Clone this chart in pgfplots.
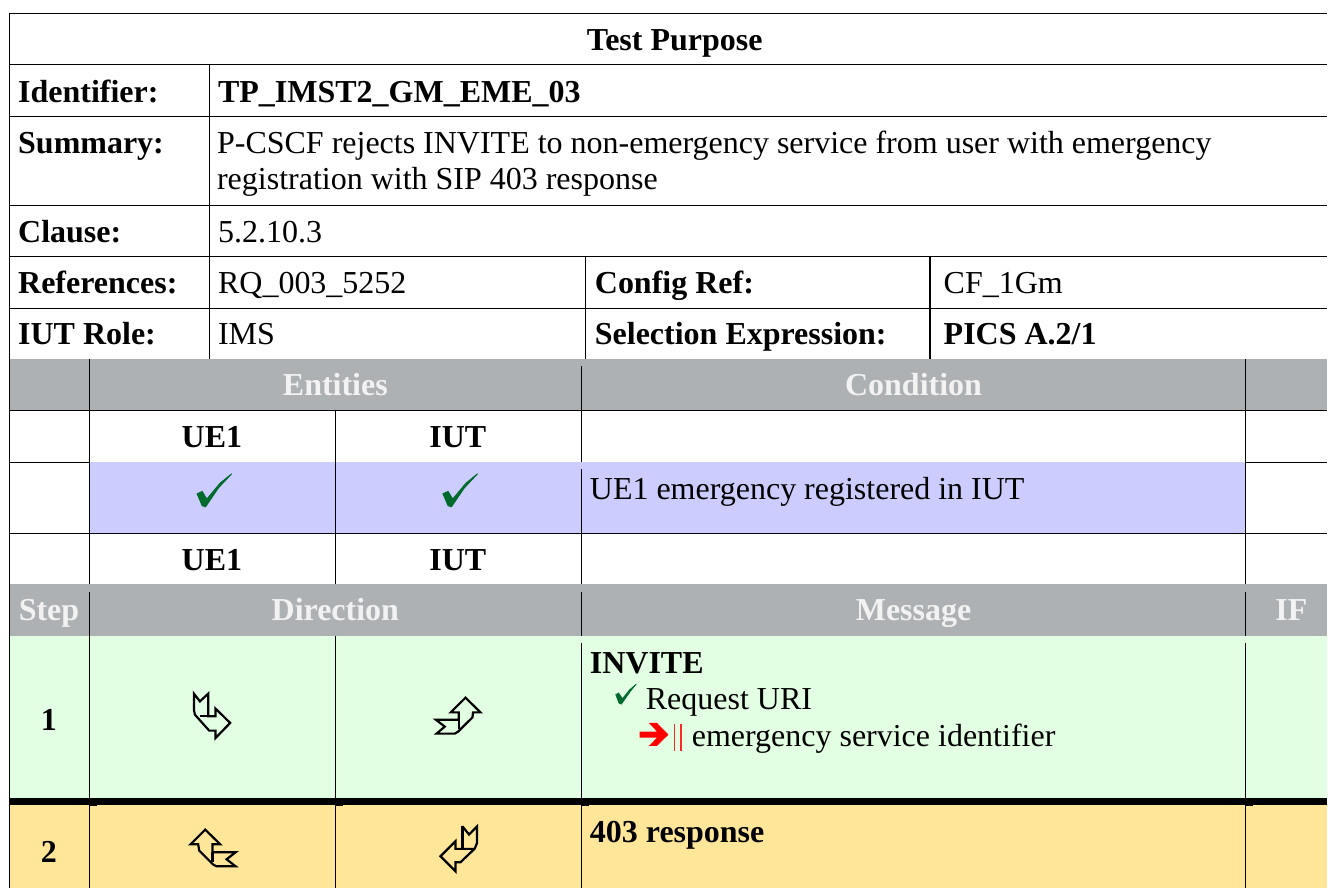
\documentclass[border=0pt]{standalone}
\usepackage{pgfplots}
\usepackage{fontspec}
\pgfplotsset{compat=1.18}
\setmainfont{Liberation Serif}
\definecolor{hdr}{HTML}{AEB1B3}
\definecolor{blu}{HTML}{CCCCFF}
\definecolor{grn}{HTML}{E3FFE3}
\definecolor{yel}{HTML}{FFE699}
\definecolor{chk}{HTML}{006B2D}
\definecolor{hdt}{HTML}{F2F2F2}
\newcommand{\fb}[5]{\addplot[draw=none,fill=#5] coordinates {(#1,#2) (#3,#2) (#3,#4) (#1,#4)} -- cycle;}
\newcommand{\vl}[3]{\addplot[black,line width=1.3pt] coordinates {(#1,#2) (#1,#3)};}
\newcommand{\hl}[3]{\addplot[black,line width=1.3pt] coordinates {(#2,#1) (#3,#1)};}
\newcommand{\tw}[3]{\node[anchor=base west,inner sep=0pt] at (axis cs:#1,#2) {#3};}
\newcommand{\tc}[3]{\node[anchor=base,inner sep=0pt] at (axis cs:#1,#2) {#3};}
\begin{document}
\begin{tikzpicture}
\begin{axis}[
  scale only axis, width=1328pt, height=888pt,
  xmin=0, xmax=1328, ymin=0, ymax=888, y dir=reverse,
  axis lines=none, clip=false, ticks=none,
]
\fontsize{32}{38}\selectfont
% fills
\fb{0}{0}{1328}{888}{white}
\fb{9}{359}{1328}{410}{hdr}
\fb{9}{584}{1328}{636}{hdr}
\fb{89}{462}{1246}{533}{blu}
\fb{9}{636}{1328}{798}{grn}
\fb{9}{805}{1328}{888}{yel}
\fb{9}{798}{1328}{805}{black}
\fb{89}{805}{97}{806}{black}
\fb{335}{805}{343}{806}{black}
\fb{581}{805}{589}{806}{black}
\fb{1246}{805}{1254}{806}{black}
% horizontal rules
\hl{13.5}{9}{1328}
\hl{64.5}{9}{1328}
\hl{116.5}{9}{1328}
\hl{205.5}{9}{1328}
\hl{256.5}{9}{1328}
\hl{308.5}{9}{1328}
\hl{410.5}{9}{1328}
\hl{462.5}{9}{89}
\hl{462.5}{1246}{1328}
\hl{533.5}{9}{1328}
% vertical rules
\vl{9.5}{13}{888}
\vl{209.5}{64}{359}
\vl{585.5}{256}{359}
\vl{930.5}{256}{359}
\vl{89.5}{359}{584}
\vl{89.5}{592}{888}
\vl{335.5}{410}{584}
\vl{335.5}{636}{888}
\vl{581.5}{366}{462}
\vl{581.5}{469}{584}
\vl{581.5}{592}{636}
\vl{581.5}{643}{888}
\vl{1246.2}{359}{584}
\vl{1246.2}{592}{636}
\vl{1246.2}{643}{888}
% checks
\addplot[draw=chk,line width=0.9pt,fill=chk] coordinates {(197.2,494) (202.3,491.7) (206.9,499.3) (220.3,483.3) (231.8,474) (218.4,488.3) (205.7,507) (202.3,506)} -- cycle;
\addplot[draw=chk,line width=0.9pt,fill=chk] coordinates {(443.2,494) (448.3,491.7) (452.9,499.3) (466.3,483.3) (477.8,474) (464.4,488.3) (451.7,507) (448.3,506)} -- cycle;
\addplot[draw=chk,line width=0.6pt,fill=chk] coordinates {(616,695) (619,693.3) (622.7,699) (630,690) (636.7,684.3) (630.7,691.7) (621.7,704.5) (619.3,703.5)} -- cycle;
% red arrow and bars
\addplot[draw=none,fill=red] coordinates {(640,732) (657.3,732) (649.3,723.3) (657.3,723.3) (668.7,735) (657.3,746.3) (649.3,746.3) (657.3,738) (640,738)} -- cycle;
\addplot[red!85!white,line width=1.2pt] coordinates {(674.7,724.3) (674.7,751)};
\addplot[red!85!white,line width=1.2pt] coordinates {(681.3,724.3) (681.3,751)};
% direction icons
\addplot[black,line width=2.2pt,miter limit=4] coordinates {(194,694) (200,701.7) (208.3,694) (208.3,716.7) (215.7,716.7) (215.7,709) (230.3,723.3) (215.7,738.3) (215.7,731) (209.3,731) (195,715) (194,710)} -- cycle;
\addplot[black,line width=2.2pt] coordinates {(200,716.7) (215.7,716.7)};
\addplot[black,line width=2.2pt] coordinates {(436,720) (445,727) (436.7,734) (455,734) (458.3,732) (472.7,717.7) (473.3,712.7) (480.7,712.7) (465.7,698) (451,712.7) (459,712.7) (459,720)} -- cycle;
\addplot[black,line width=2.2pt] coordinates {(459,720) (459,729.3)};
\addplot[black,line width=2.2pt] coordinates {(205.3,830) (220.3,844.7) (212.7,844.7) (212.7,852.7) (235.7,852.7) (226.7,859.7) (235.7,866.7) (216.7,866.7) (213.3,865) (199.3,851) (198.3,844.7) (190.7,844.7)} -- cycle;
\addplot[black,line width=2.2pt] coordinates {(212.7,852.7) (212.7,862.7)};
\addplot[black,line width=2.2pt] coordinates {(462.7,826.7) (469.3,835) (477.3,826.7) (477.3,843.3) (475,849) (460.7,862.7) (455.7,862.7) (455.7,871.7) (440.7,856.7) (455.7,841.7) (455.7,849.3) (475,849.3)};
\addplot[black,line width=2.2pt] coordinates {(462.7,826.7) (462.7,849.3)};
% text
\tc{675}{51}{\textbf{Test Purpose}}
\tw{18}{103}{\textbf{Identifier:}}
\tw{218}{103}{\textbf{TP\_IMST2\_GM\_EME\_03}}
\tw{18}{154}{\textbf{Summary:}}
\tw{217}{154}{P-CSCF rejects INVITE to non-emergency service from user with emergency}
\tw{217}{190}{registration with SIP 403 response}
\tw{18}{243}{\textbf{Clause:}}
\tw{218}{243}{5.2.10.3}
\tw{18}{294}{\textbf{References:}}
\tw{218}{294}{RQ\_003\_5252}
\tw{595}{294}{\textbf{Config Ref:}}
\tw{944}{294}{CF\_1Gm}
\tw{18}{345}{\textbf{IUT Role:}}
\tw{218}{345}{IMS}
\tw{595}{345}{\textbf{Selection Expression:}}
\tw{944}{345}{\textbf{PICS A.2/1}}
\tc{335.5}{396}{\color{hdt}\textbf{Entities}}
\tc{914}{396}{\color{hdt}\textbf{Condition}}
\tc{212}{448}{\textbf{UE1}}
\tc{458}{448}{\textbf{IUT}}
\tw{590}{500}{UE1 emergency registered in IUT}
\tc{212}{571}{\textbf{UE1}}
\tc{458}{571}{\textbf{IUT}}
\tc{49}{621}{\color{hdt}\textbf{Step}}
\tc{335.5}{621}{\color{hdt}\textbf{Direction}}
\tc{914}{621}{\color{hdt}\textbf{Message}}
\tc{1292}{621}{\color{hdt}\textbf{IF}}
\tc{49}{731}{\textbf{1}}
\tw{590}{674}{\textbf{INVITE}}
\tw{646}{710}{Request URI}
\tw{692}{747}{emergency service identifier}
\tc{49}{863}{\textbf{2}}
\tw{590}{843}{\textbf{403 response}}
\end{axis}
\end{tikzpicture}
\end{document}
